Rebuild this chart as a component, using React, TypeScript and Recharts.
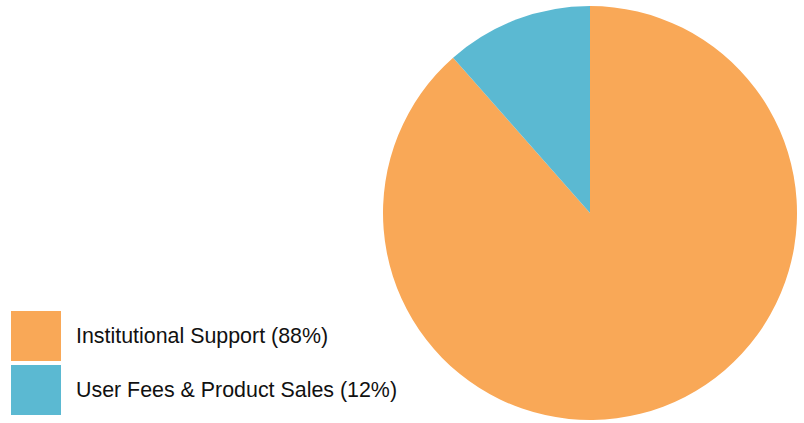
import { PieChart, Pie, Cell } from 'recharts';

const sources = ['Institutional Support', 'User Fees & Product Sales'];
const shares = [88.5, 11.5];
const shareLabels = ['88%', '12%'];
const colors = ['#F9A857', '#5BB9D2'];

const data = sources.map((name, i) => ({ name, value: shares[i] }));

function LegendBox() {
  return (
    <div
      style={{
        position: 'absolute',
        left: 11,
        top: 311,
        fontFamily: 'Liberation Sans, Arial, sans-serif',
        fontSize: 21.4,
        color: '#111',
      }}
    >
      {data.map((d, i) => (
        <div key={d.name} style={{ display: 'flex', alignItems: 'center', height: 50, marginBottom: 4 }}>
          <div style={{ width: 50, height: 50, background: colors[i] }} />
          <span style={{ marginLeft: 15 }}>
            {d.name} ({shareLabels[i]})
          </span>
        </div>
      ))}
    </div>
  );
}

export default function App() {
  return (
    <div style={{ position: 'absolute', left: 0, top: 0, width: 804, height: 423, background: '#fff' }}>
      <PieChart width={804} height={423} margin={{ top: 0, right: 0, bottom: 0, left: 0 }}>
        <Pie
          data={data}
          dataKey="value"
          nameKey="name"
          cx={590}
          cy={213}
          outerRadius={207}
          startAngle={90}
          endAngle={-270}
          stroke="none"
          isAnimationActive={false}
        >
          {data.map((d, i) => (
            <Cell key={d.name} fill={colors[i]} />
          ))}
        </Pie>
      </PieChart>
      <LegendBox />
    </div>
  );
}
